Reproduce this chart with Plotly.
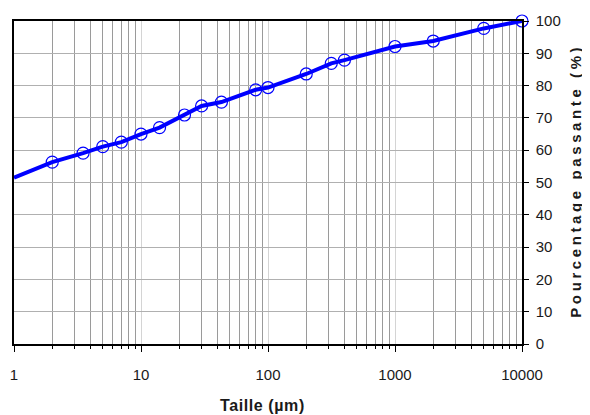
import numpy as np
import plotly.graph_objects as go

# grain size distribution
taille = [2, 3.5, 5, 7, 10, 14, 22, 30, 43, 80, 100, 200, 315, 400, 1000, 2000, 5000, 10000]
passant = [56.3, 59.1, 61.1, 62.5, 65.0, 67.0, 70.9, 73.7, 74.9, 78.7, 79.4, 83.6, 86.9, 87.9, 92.1, 93.8, 97.7, 100]
# line begins at the left edge of the chart, before the first measured point
taille_debut = 1
passant_debut = 51.5

x_ticks = [1, 10, 100, 1000, 10000]
y_ticks = list(range(0, 101, 10))

minor_vals = [m * 10 ** d for d in range(4) for m in range(2, 10)]

fig = go.Figure()
fig.add_trace(go.Scatter(x=[taille_debut] + taille, y=[passant_debut] + passant,
                         mode='lines', line=dict(color='#0000ff', width=4),
                         hoverinfo='skip', showlegend=False))
fig.add_trace(go.Scatter(x=taille, y=passant, mode='markers',
                         marker=dict(symbol='circle-open', size=12, color='#0000ff',
                                     line=dict(width=1.2, color='#0000ff')),
                         cliponaxis=False, showlegend=False))

# the page body adds an 8px margin, so the figure is 8px smaller than the window
fig.update_layout(
    width=582, height=407,
    margin=dict(l=6, r=68, t=13, b=71),
    paper_bgcolor='white', plot_bgcolor='white',
    font=dict(family='Liberation Sans, Arial, sans-serif', size=15, color='#1a1a1a'),
    xaxis=dict(type='log', range=[0, 4], tickvals=x_ticks, ticktext=[str(v) for v in x_ticks],
               automargin=False,
               showgrid=True, gridcolor='#d4d4d4', gridwidth=1,
               ticks='outside', ticklen=6, tickcolor='black', tickwidth=1,
               ticklabelstandoff=10,
               showline=True, linecolor='black', linewidth=2, mirror=True,
               zeroline=False,
               minor=dict(tickmode='array', tickvals=minor_vals, showgrid=True,
                          gridcolor='#9a9a9a', gridwidth=1, ticks='outside',
                          ticklen=3, tickcolor='black')),
    yaxis=dict(side='right', range=[0, 100], tickvals=y_ticks,
               automargin=False,
               showgrid=True, gridcolor='#b0b0b0', gridwidth=1,
               ticks='outside', ticklen=5, tickcolor='black',
               ticklabelstandoff=4,
               showline=True, linecolor='black', linewidth=1.5, mirror=True,
               zeroline=False),
    annotations=[
        dict(text='<span style="letter-spacing:0.6px"><b>Taille (µm)</b></span>',
             xref='paper', yref='paper', x=0.49, y=-0.189,
             xanchor='center', yanchor='middle', showarrow=False, font=dict(size=16)),
        dict(text='<span style="letter-spacing:3.6px"><b>Pourcentage passante (%)</b></span>',
             xref='paper', yref='paper',
             x=1.106, y=0.505, xanchor='center', yanchor='middle', textangle=-90,
             showarrow=False, font=dict(size=15)),
    ],
)

fig.write_html("out.html")
